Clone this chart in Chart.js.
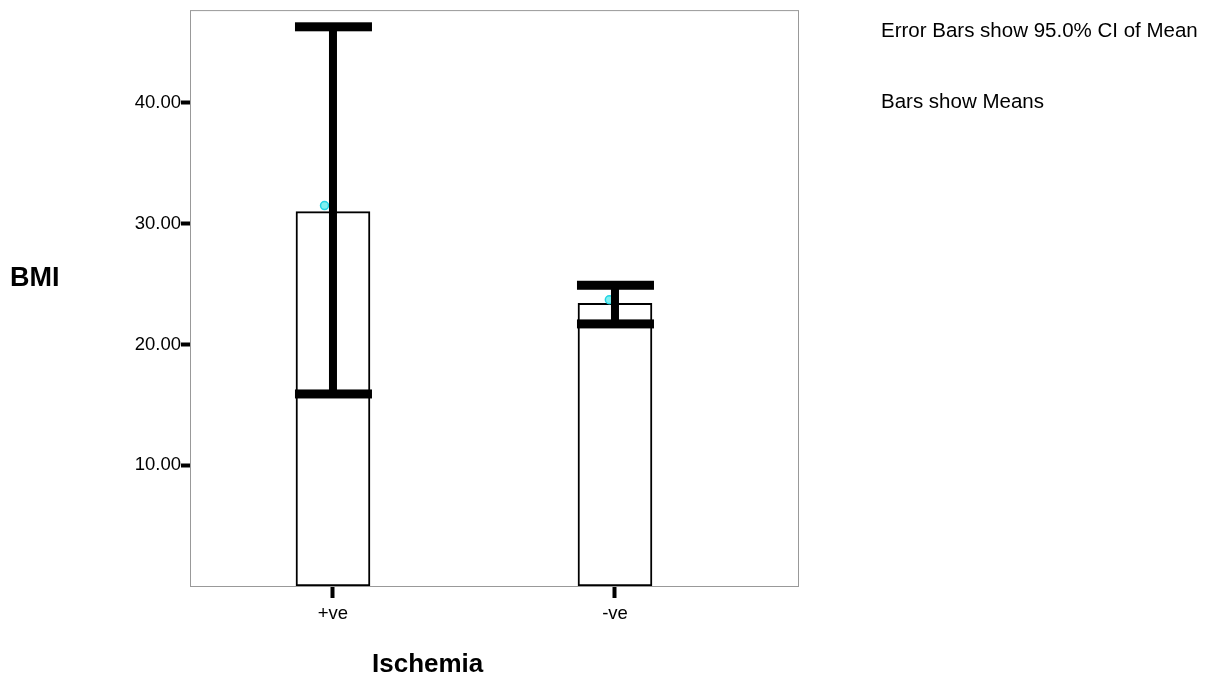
<!DOCTYPE html>
<html lang="en">
<head>
    <meta charset="UTF-8">
    <title>BMI by Ischemia</title>
    <script src="https://cdn.jsdelivr.net/npm/chart.js"></script>
    <style>
        body {
            margin: 0;
            padding: 0;
            background: white;
            font-family: "Liberation Sans", Arial, sans-serif;
        }
        .wrap {
            position: relative;
            width: 1224px;
            height: 677px;
        }
        .label {
            position: absolute;
            color: #000;
            white-space: nowrap;
            line-height: 1.15;
        }
        #ytitle { left: 10px; top: 262px; font-size: 27px; font-weight: bold; }
        #xtitle { left: 372px; top: 649px; font-size: 26px; font-weight: bold; }
        .note { left: 881px; font-size: 20.5px; }
    </style>
</head>
<body>
    <div class="wrap">
        <canvas id="chart" width="1224" height="677"></canvas>
        <div class="label" id="ytitle">BMI</div>
        <div class="label" id="xtitle">Ischemia</div>
        <div class="label note" style="top: 18px;">Error Bars show 95.0% CI of Mean</div>
        <div class="label note" style="top: 89px;">Bars show Means</div>
    </div>

    <script>
        // data
        const categories = ['+ve', '-ve'];
        const means = [31.0, 23.4];
        const ciLower = [15.9, 21.7];
        const ciUpper = [46.3, 24.9];
        const markerX = [0.97, 1.98];
        const markerY = [31.5, 23.7];
        const yTicks = [10, 20, 30, 40];

        // frame around plot area + error bars
        const errorBars = {
            id: 'errorBars',
            afterDatasetsDraw(chart) {
                const { ctx, scales: { x, y } } = chart;
                ctx.save();
                ctx.fillStyle = '#000';
                means.forEach((m, i) => {
                    const cx = x.getPixelForValue(i + 1);
                    const top = y.getPixelForValue(ciUpper[i]);
                    const bot = y.getPixelForValue(ciLower[i]);
                    ctx.fillRect(cx - 4, top, 8, bot - top);
                    ctx.fillRect(cx - 38, top - 4.5, 77, 9);
                    ctx.fillRect(cx - 38, bot - 4.5, 77, 9);
                });
                ctx.restore();
            },
            beforeDraw(chart) {
                const a = chart.chartArea;
                const ctx = chart.ctx;
                ctx.save();
                ctx.strokeStyle = '#999';
                ctx.lineWidth = 1;
                ctx.strokeRect(a.left + 0.5, a.top - 0.5, a.right - a.left, a.bottom - a.top + 1);
                ctx.restore();
            }
        };

        new Chart(document.getElementById('chart'), {
            type: 'bar',
            data: {
                datasets: [{
                    type: 'scatter',
                    data: markerX.map((v, i) => ({ x: v, y: markerY[i] })),
                    pointStyle: 'circle',
                    pointRadius: 4,
                    backgroundColor: '#7ff0f0',
                    borderColor: '#22d4e4',
                    borderWidth: 1.5,
                    order: 0
                }, {
                    data: means.map((v, i) => ({ x: i + 1, y: v })),
                    backgroundColor: '#fff',
                    borderColor: '#000',
                    borderWidth: 2,
                    borderSkipped: false,
                    barThickness: 74,
                    order: 1
                }]
            },
            options: {
                responsive: false,
                animation: false,
                layout: { padding: { top: 10, right: 426, left: 0, bottom: 0 } },
                plugins: {
                    legend: { display: false },
                    tooltip: { enabled: false }
                },
                scales: {
                    x: {
                        type: 'linear',
                        min: 0.493,
                        max: 2.649,
                        offset: false,
                        afterBuildTicks: s => { s.ticks = [{ value: 1 }, { value: 2 }]; },
                        afterFit: s => { s.height = 91; },
                        ticks: {
                            callback: v => categories[v - 1],
                            color: '#000',
                            font: { family: 'Liberation Sans', size: 18.5 },
                            padding: 5
                        },
                        grid: {
                            offset: false,
                            drawOnChartArea: false,
                            tickLength: 12,
                            tickWidth: 4,
                            tickColor: '#000'
                        },
                        border: { color: '#999', width: 1 }
                    },
                    y: {
                        min: 0,
                        max: 47.6,
                        afterBuildTicks: s => { s.ticks = yTicks.map(v => ({ value: v })); },
                        afterFit: s => { s.width = 190; },
                        ticks: {
                            callback: v => v.toFixed(2),
                            color: '#000',
                            font: { family: 'Liberation Sans', size: 18.5 },
                            padding: 0
                        },
                        grid: {
                            drawOnChartArea: false,
                            tickLength: 9,
                            tickWidth: 4,
                            tickColor: '#000'
                        },
                        border: { color: '#999', width: 1 }
                    }
                }
            },
            plugins: [errorBars]
        });
    </script>
</body>
</html>
